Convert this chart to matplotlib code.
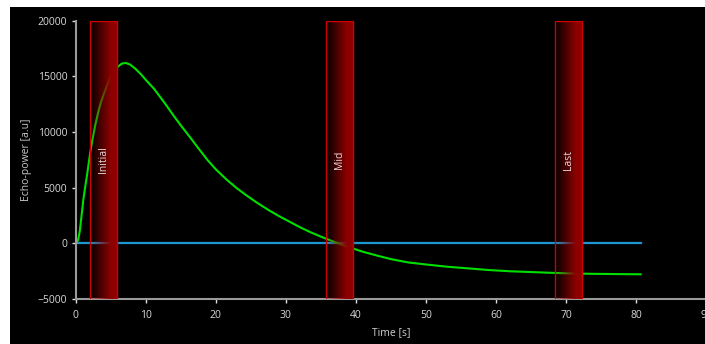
import numpy as np
import matplotlib
matplotlib.use('Agg')
import matplotlib.pyplot as plt
from matplotlib.patches import Rectangle

# echo-power curve
time_s = [0, 0.15, 0.35, 0.6, 0.85, 1.1, 1.35, 1.6, 1.85, 2.1, 2.4, 2.8, 3.2,
          3.6, 4.0, 4.5, 5.0, 5.5, 6.0, 6.6, 7.2, 7.8, 8.5, 9.3, 10.2, 11.1,
          12.0, 13.0, 14.0, 15.0, 16.3, 17.5, 18.8, 20.0, 21.5, 23, 24.5, 26,
          27.5, 29, 30.5, 32, 33.5, 35, 36.5, 38, 39.5, 41, 43, 45, 47.5, 50,
          53, 56, 59, 62, 65, 68, 71, 74, 77, 80.6]
echo_power = [0, 0, 300, 1100, 2500, 3900, 5000, 6000, 7100, 8200, 9300, 10600,
              11700, 12650, 13350, 14200, 15000, 15500, 15850, 16150, 16200,
              16050, 15700, 15200, 14550, 13950, 13200, 12350, 11450, 10600,
              9550, 8550, 7500, 6650, 5750, 4950, 4250, 3600, 3000, 2450, 1950,
              1450, 1000, 600, 230, -120, -450, -760, -1100, -1420, -1720, -1900,
              -2100, -2250, -2400, -2510, -2580, -2650, -2710, -2740, -2760,
              -2780]
baseline_t = [0, 80.6]
baseline_v = [0, 0]

# marked windows
win_names = ['Initial', 'Mid', 'Last']
win_start = [2.0, 35.7, 68.4]
win_end = [5.9, 39.6, 72.3]

xticks = [0, 10, 20, 30, 40, 50, 60, 70, 80, 90]
yticks = [-5000, 0, 5000, 10000, 15000, 20000]

W, H = 705, 344
plt.rcParams['font.family'] = ['Open Sans', 'DejaVu Sans']
fig = plt.figure(figsize=(W / 100, H / 100), dpi=100, facecolor='white')
fig.patches.append(Rectangle((10 / W, 0), 1, (H - 7) / H, transform=fig.transFigure,
                             facecolor='black', edgecolor='none', zorder=-10))

ax = fig.add_axes([75.6 / W, 45 / H, (706.5 - 75.6) / W, (299 - 20.7) / H])
ax.set_facecolor('black')

ax.plot(baseline_t, baseline_v, color='#1e96d2', lw=1.6, zorder=2)
ax.plot(time_s, echo_power, color='#00e000', lw=1.5, zorder=2,
        solid_joinstyle='round')

# gradient windows: transparent on the left, dark red on the right
grad = np.zeros((1, 256, 4))
grad[..., 0] = 0.56
grad[..., 3] = np.clip(np.linspace(0, 1, 256) / 0.75, 0, 1)
for name, x0, x1 in zip(win_names, win_start, win_end):
    ax.imshow(grad, extent=[x0, x1, -5000, 20000], aspect='auto',
              interpolation='bilinear', zorder=3)
    ax.add_patch(Rectangle((x0, -5000), x1 - x0, 25000, fill=False,
                           ec='#d00000', lw=1.0, zorder=4))
    ax.text((x0 + x1) / 2, 7500, name, rotation=90, ha='center', va='center',
            color='#e8dcdc', fontsize=7.5, zorder=5)

ax.set_xlim(0, 90)
ax.set_ylim(-5000, 20000)
ax.set_xticks(xticks)
ax.set_yticks(yticks)

for s in ['top', 'right']:
    ax.spines[s].set_visible(False)
for s in ['left', 'bottom']:
    ax.spines[s].set_color('#9a9a9a')
    ax.spines[s].set_linewidth(1.5)
ax.tick_params(colors='#e0e0e0', labelcolor='#d8d8d8', length=3, width=1,
               labelsize=7.5)
ax.tick_params(axis='x', pad=5)
ax.tick_params(axis='y', pad=3)

ax.set_xlabel('Time [s]', color='#d0d0d0', fontsize=7.5, labelpad=4)
ax.set_ylabel('Echo-power [a.u]', color='#c8c8c8', fontsize=7.5, labelpad=4)

fig.savefig('out.png', dpi=100, facecolor=fig.get_facecolor())
